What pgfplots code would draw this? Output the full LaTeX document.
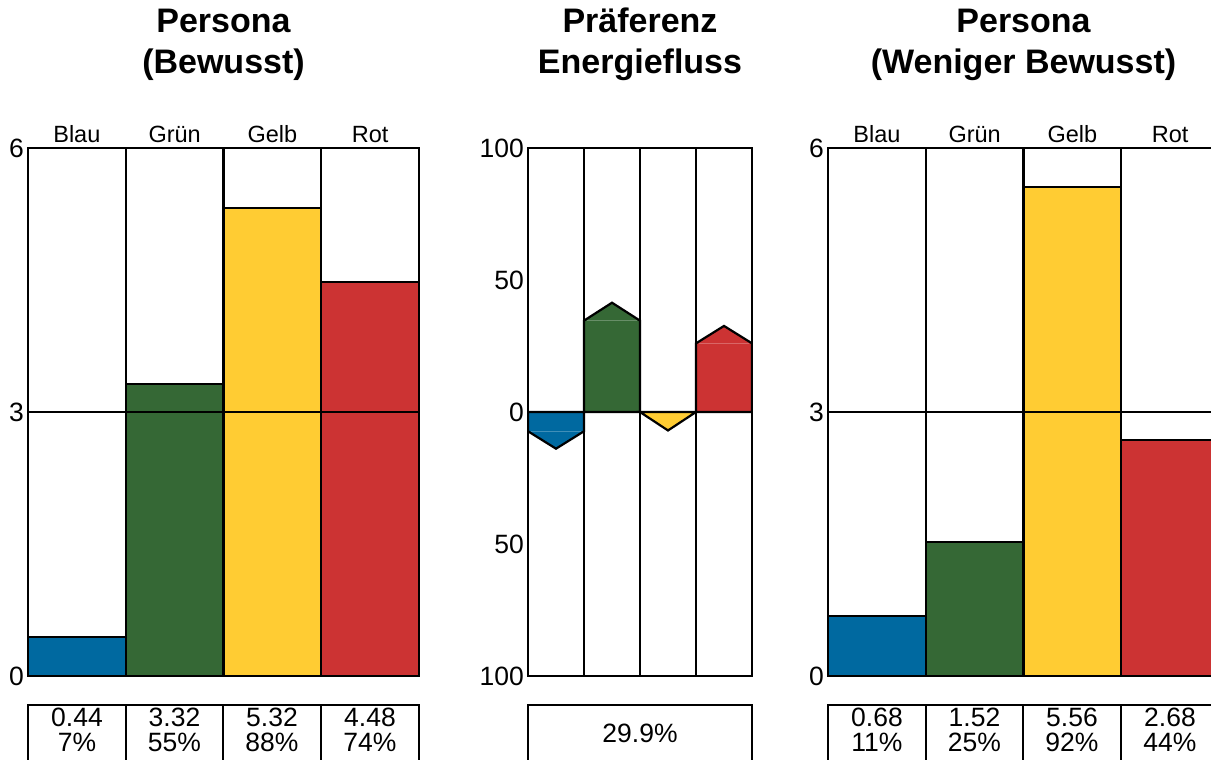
\documentclass[border=0pt]{standalone}
\usepackage{fontspec}
\setmainfont{Liberation Sans}
\usepackage{pgfplots}
\pgfplotsset{compat=1.18}

\definecolor{blau}{RGB}{0,105,160}
\definecolor{gruen}{RGB}{53,104,53}
\definecolor{gelb}{RGB}{255,204,51}
\definecolor{rot}{RGB}{204,51,51}

\pgfplotsset{
  panel/.style={
    scale only axis, width=391pt, height=528pt, anchor=south west,
    xmin=-0.5, xmax=3.5, axis on top,
    major tick length=0pt,
    axis line style={black, line width=2.2pt},
    grid style={black, line width=2.2pt},
    yticklabel style={font=\fontsize{26.5}{26}\selectfont, inner sep=0pt, xshift=-4pt},
    xticklabel style={font=\fontsize{23.5}{24}\selectfont, inner sep=0pt, yshift=5pt},
    /pgf/number format/assume math mode=true,
    extra x ticks={0.5,1.5,2.5}, extra x tick labels={},
    extra x tick style={grid=major},
  },
  persona/.style={panel, ybar, bar width=1, ymin=0, ymax=6,
    ytick={0,3,6}, ymajorgrids,
    xtick={0,1,2,3}, xticklabels={Blau,Grün,Gelb,Rot}, xticklabel pos=upper},
  bar/.style={fill=#1, draw=black, line width=2.2pt, bar shift=0pt},
  arrow/.style={fill=#1, draw=black, line width=2.2pt},
}
\newcommand{\tabfont}{\fontsize{26.5}{26}\selectfont}
\newcommand{\titlefont}{\bfseries\fontsize{34}{34}\selectfont}

\begin{document}
\begin{tikzpicture}[x=1pt, y=1pt]

% Persona (Bewusst)
\begin{axis}[persona, at={(28pt,84pt)}]
\addplot[bar=blau]  coordinates {(0,0.44)};
\addplot[bar=gruen] coordinates {(1,3.32)};
\addplot[bar=gelb]  coordinates {(2,5.32)};
\addplot[bar=rot]   coordinates {(3,4.48)};
\end{axis}

% Praeferenz Energiefluss
\begin{axis}[panel, at={(528pt,84pt)}, width=224pt,
  ymin=-100, ymax=100, ytick={-100,-50,0,50,100},
  yticklabels={100,50,0,50,100}, xtick=\empty,
  extra y ticks={0}, extra y tick labels={}, extra y tick style={grid=major}]
\addplot[arrow=blau]  coordinates {(-0.5,0) (-0.5,-7.3) (0,-13.9) (0.5,-7.3) (0.5,0)} -- cycle;
\addplot[arrow=gruen] coordinates {(0.5,0) (0.5,34.6) (1,41.4) (1.5,34.6) (1.5,0)} -- cycle;
\addplot[arrow=gelb]  coordinates {(1.5,0) (2,-7) (2.5,0)} -- cycle;
\addplot[arrow=rot]   coordinates {(2.5,0) (2.5,26) (3,32.6) (3.5,26) (3.5,0)} -- cycle;
\addplot[blau!75!white, line width=1pt]  coordinates {(-0.45,-7.3) (0.45,-7.3)};
\addplot[gruen!75!white, line width=1pt] coordinates {(0.55,34.6) (1.45,34.6)};
\addplot[rot!75!white, line width=1pt]   coordinates {(2.55,26) (3.45,26)};
\end{axis}

% Persona (Weniger Bewusst)
\begin{axis}[persona, at={(828pt,84pt)}]
\addplot[bar=blau]  coordinates {(0,0.68)};
\addplot[bar=gruen] coordinates {(1,1.52)};
\addplot[bar=gelb]  coordinates {(2,5.56)};
\addplot[bar=rot]   coordinates {(3,2.68)};
\end{axis}

% titles
\node[font=\titlefont, anchor=base] at (223.5,727) {Persona};
\node[font=\titlefont, anchor=base] at (223.5,686) {(Bewusst)};
\node[font=\titlefont, anchor=base] at (640,727) {Präferenz};
\node[font=\titlefont, anchor=base] at (640,686) {Energiefluss};
\node[font=\titlefont, anchor=base] at (1023.5,727) {Persona};
\node[font=\titlefont, anchor=base] at (1023.5,686) {(Weniger Bewusst)};

% tables
\begin{scope}[line width=2.2pt]
\draw (28,-40) rectangle (419,55);
\foreach \x in {126,223,321} \draw (\x,-40) -- (\x,55);
\draw (528,-40) rectangle (752,55);
\draw (828,-40) rectangle (1219,55);
\foreach \x in {926,1023,1121} \draw (\x,-40) -- (\x,55);
\end{scope}
\begin{scope}[every node/.style={font=\tabfont, anchor=base, inner sep=0pt}]
\node at (77,33) {0.44};    \node at (77,8) {7\%};
\node at (174.5,33) {3.32}; \node at (174.5,8) {55\%};
\node at (272,33) {5.32};   \node at (272,8) {88\%};
\node at (370,33) {4.48};   \node at (370,8) {74\%};
\node at (640,17) {29.9\%};
\node at (877,33) {0.68};   \node at (877,8) {11\%};
\node at (974.5,33) {1.52}; \node at (974.5,8) {25\%};
\node at (1072,33) {5.56};  \node at (1072,8) {92\%};
\node at (1170,33) {2.68};  \node at (1170,8) {44\%};
\end{scope}

\pgfresetboundingbox
\useasboundingbox (0,0) rectangle (1211,760);
\end{tikzpicture}
\end{document}
